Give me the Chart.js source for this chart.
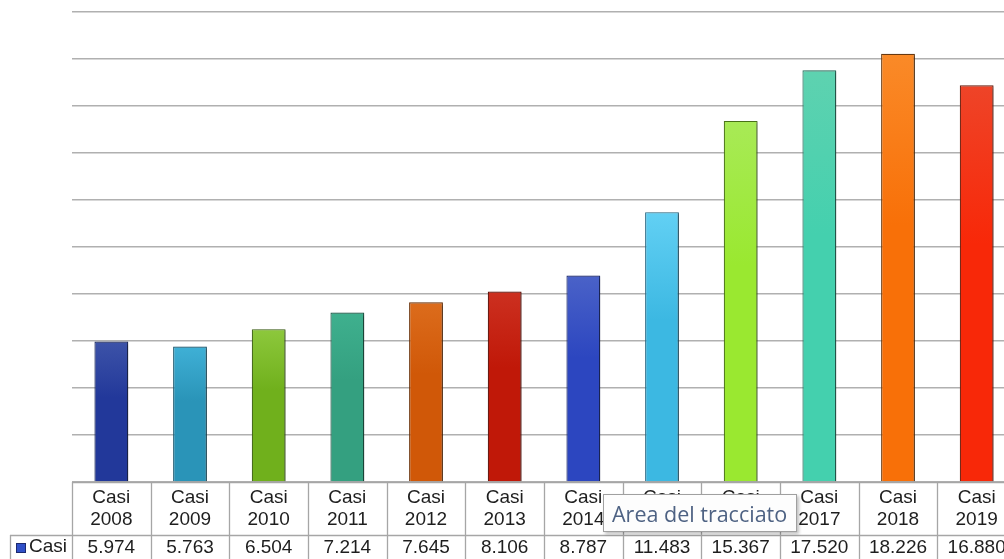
<!DOCTYPE html>
<html>
<head>
<meta charset="utf-8">
<script src="https://cdn.jsdelivr.net/npm/chart.js@4.4.1/dist/chart.umd.min.js"></script>
<style>
  html, body { margin: 0; padding: 0; background: #ffffff; overflow: hidden; width: 1004px; height: 559px; }
  #wrap { position: absolute; left: 0; top: 0; width: 1016px; height: 559px; }
  #tip {
    position: absolute; left: 603px; top: 494px; width: 184px; height: 36px;
    background: #fdfdfd; border: 1px solid #a0a0a0;
    box-shadow: 2px 2px 3px rgba(0,0,0,0.25);
    font-family: "Open Sans", "Noto Sans", sans-serif; font-size: 21.5px; color: #4e6283;
    line-height: 38px; padding-left: 8px; box-sizing: content-box; white-space: nowrap; overflow: hidden;
  }
</style>
</head>
<body>
<div id="wrap"><canvas id="c" width="1016" height="559"></canvas></div>
<div id="tip">Area del tracciato</div>
<script>
const seriesName = 'Casi';
const years = ['2008','2009','2010','2011','2012','2013','2014','2015','2016','2017','2018','2019'];
const cases = [5974, 5763, 6504, 7214, 7645, 8106, 8787, 11483, 15367, 17520, 18226, 16880];
const yTicksMax = 20000;
const yTicksStep = 2000;
const topColors = ['#3d53a8','#3fb0d6','#8dc83c','#3fb08e','#dc6c1c','#cc3020','#4a62c8','#62d0f4','#a8ea56','#5ed2b0','#fa8a28','#ee4428'];
const bottomColors = ['#22389a','#2a94b8','#70b01c','#34a080','#d05808','#c01808','#2c46c0','#3cb8e2','#9ae830','#44d0ae','#f87008','#f82808'];
const borderColors = ['#1c2a60','#1e5a70','#3e6216','#1e5a48','#6a3008','#601008','#1c2a70','#2a6a84','#4a7418','#2a7260','#6a3a10','#6a2010'];

function fmt(v){ return String(v).replace(/\B(?=(\d{3})+(?!\d))/g, '.'); }

const labels = years.map(y => [seriesName, y]);

const shadowPlugin = {
  id: 'barShadow',
  beforeDatasetDraw(chart){
    const ctx = chart.ctx; ctx.save();
    ctx.shadowColor = 'rgba(0,0,0,0.35)'; ctx.shadowOffsetX = 2; ctx.shadowOffsetY = 1; ctx.shadowBlur = 2;
  },
  afterDatasetDraw(chart){ chart.ctx.restore(); }
};

const tablePlugin = {
  id: 'dataTable',
  afterDraw(chart){
    const ctx = chart.ctx, xs = chart.scales.x, area = chart.chartArea;
    const n = years.length;
    const w = (area.right - area.left) / n;
    const top = area.bottom, mid = 535, bot = 559;
    ctx.save();
    ctx.strokeStyle = '#a6a6a6'; ctx.lineWidth = 1.3;
    ctx.beginPath();
    ctx.moveTo(area.left, top + 0.5); ctx.lineTo(area.right + 2, top + 0.5);
    ctx.moveTo(10, mid + 0.5); ctx.lineTo(area.right + 2, mid + 0.5);
    for (let i = 0; i <= n; i++) {
      const x = Math.round(area.left + i * w) + 0.5;
      ctx.moveTo(x, top); ctx.lineTo(x, bot + 2);
    }
    ctx.moveTo(10.5, mid); ctx.lineTo(10.5, bot + 2);
    ctx.stroke();
    ctx.fillStyle = '#1e1e1e';
    ctx.font = '19px "Liberation Sans", Arial, sans-serif';
    ctx.textAlign = 'center'; ctx.textBaseline = 'middle';
    for (let i = 0; i < n; i++) {
      ctx.fillText(fmt(cases[i]), xs.getPixelForValue(i), 548);
    }
    // legend cell
    ctx.fillStyle = '#3050c8'; ctx.strokeStyle = '#1c2a70'; ctx.lineWidth = 1;
    ctx.fillRect(16, 543, 10, 10); ctx.strokeRect(16.5, 543.5, 9, 9);
    ctx.fillStyle = '#1e1e1e'; ctx.textAlign = 'left';
    ctx.fillText(seriesName, 29, 547);
    ctx.restore();
  }
};

function grad(colorsTop, colorsBot){
  return function(context){
    const chart = context.chart, area = chart.chartArea;
    const i = context.dataIndex;
    if (!area || !chart.scales.y) return colorsBot[i];
    const yTop = chart.scales.y.getPixelForValue(cases[i]);
    const g = chart.ctx.createLinearGradient(0, yTop, 0, area.bottom);
    g.addColorStop(0, colorsTop[i]);
    g.addColorStop(0.4, colorsBot[i]);
    g.addColorStop(1, colorsBot[i]);
    return g;
  };
}

new Chart(document.getElementById('c'), {
  type: 'bar',
  data: {
    labels: labels,
    datasets: [{
      label: seriesName,
      data: cases,
      backgroundColor: grad(topColors, bottomColors),
      borderColor: borderColors,
      borderWidth: 1.2,
      borderSkipped: 'bottom',
      categoryPercentage: 1,
      barPercentage: 0.43
    }]
  },
  options: {
    responsive: false,
    animation: false,
    layout: { padding: { left: 72, top: 12, right: 0, bottom: 0 } },
    plugins: { legend: { display: false }, tooltip: { enabled: false } },
    scales: {
      x: {
        grid: { display: false, drawTicks: false },
        border: { display: false },
        ticks: {
          autoSkip: false, maxRotation: 0, minRotation: 0, padding: 5,
          color: '#1e1e1e',
          font: { family: '"Liberation Sans", Arial, sans-serif', size: 19, lineHeight: '22px' }
        },
        afterFit(s){ s.height = 77; }
      },
      y: {
        min: 0, max: yTicksMax,
        ticks: { display: false, stepSize: yTicksStep },
        grid: { color: '#b0b0b0', lineWidth: 1.5, drawTicks: false },
        border: { display: false },
        afterFit(s){ s.width = 0; }
      }
    }
  },
  plugins: [shadowPlugin, tablePlugin]
});
</script>
</body>
</html>
